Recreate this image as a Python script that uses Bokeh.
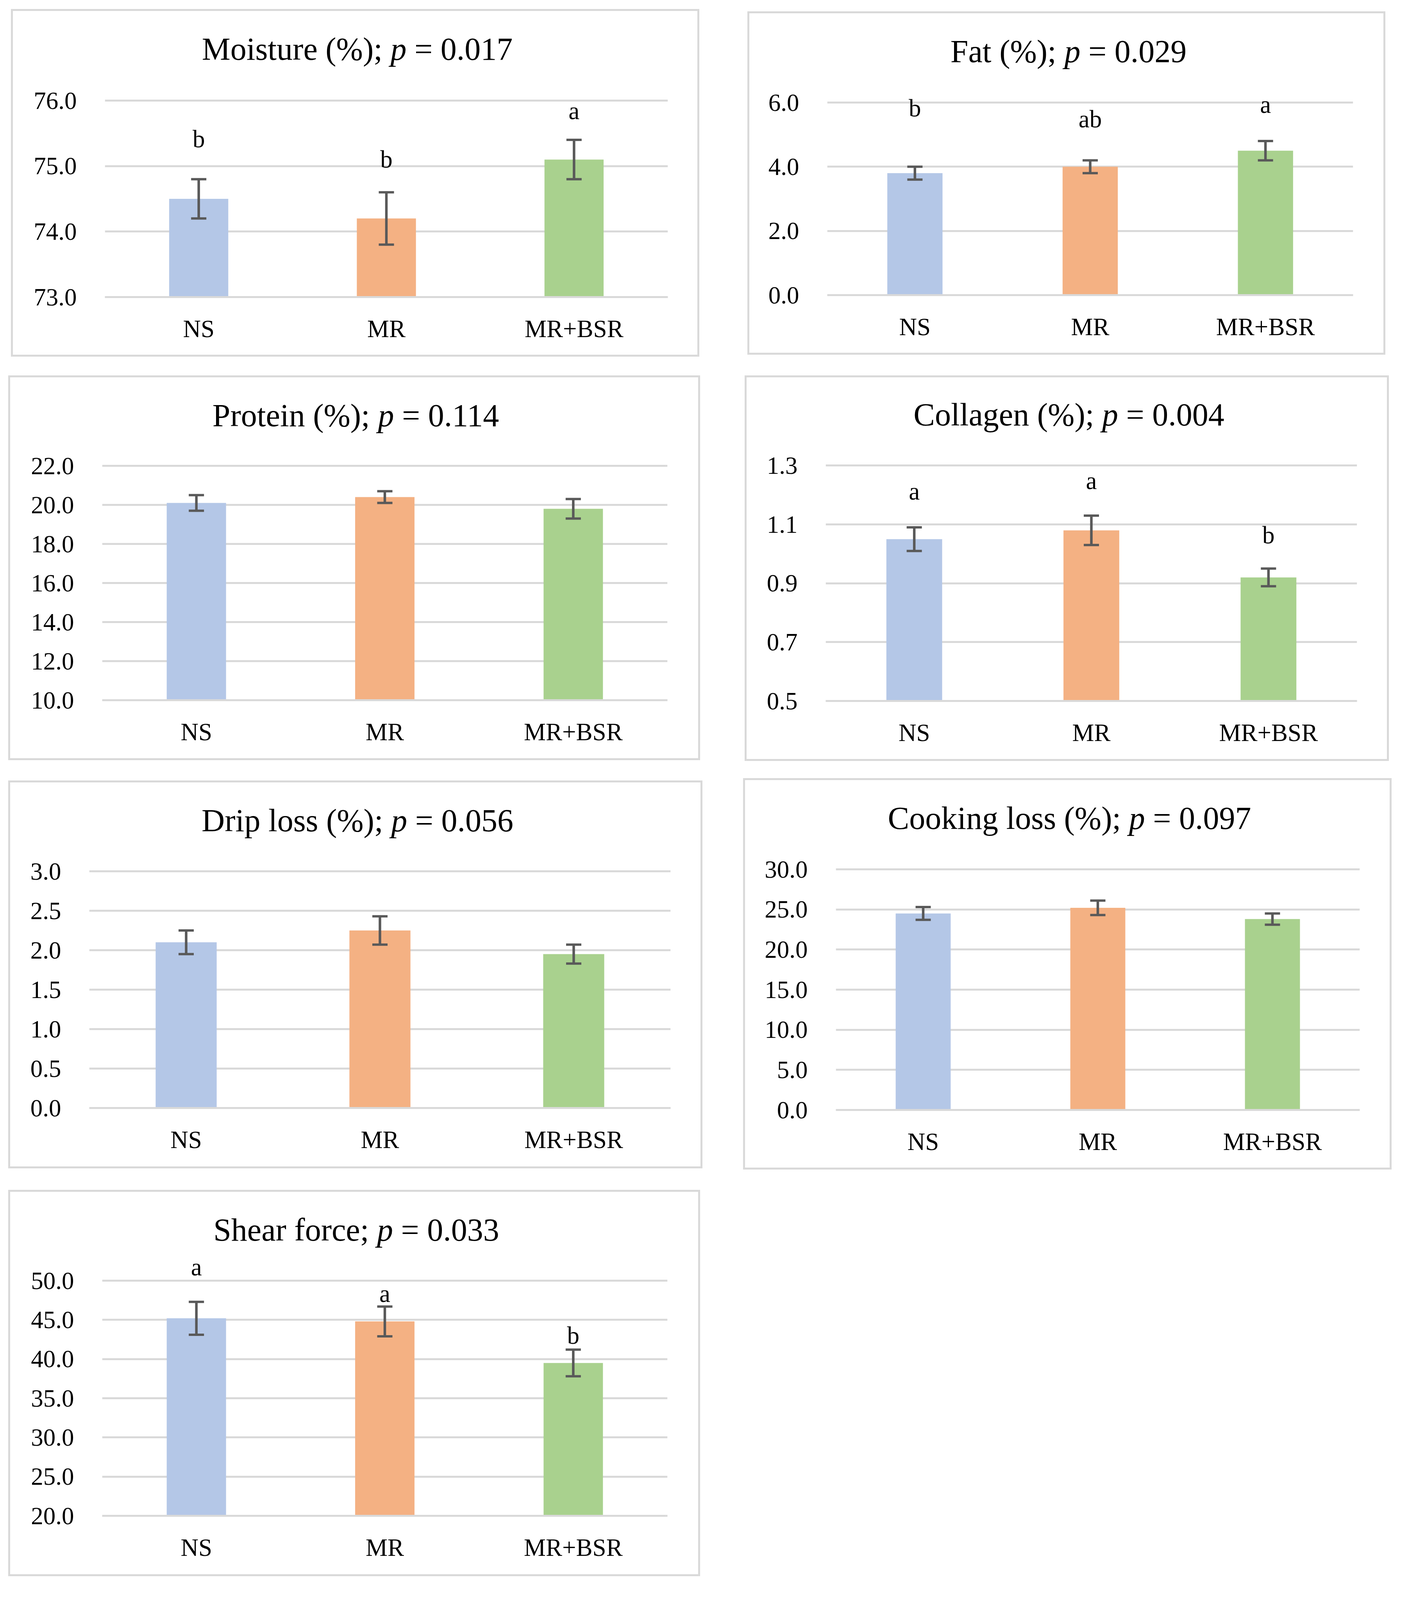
from bokeh.plotting import figure
from bokeh.layouts import row, column
from bokeh.models import (ColumnDataSource, FactorRange, Range1d, FixedTicker,
                          PrintfTickFormatter, Whisker, TeeHead, Label, Spacer)
from bokeh.core.properties import value
from bokeh.embed import file_html
from bokeh.resources import INLINE

# ------------------------------------------------
# Datos
# ------------------------------------------------
grupos = ["NS", "MR", "MR+BSR"]
colores = ["#b4c7e7", "#f4b183", "#a9d18e"]

humedad_media = [74.5, 74.2, 75.1]
humedad_err = [0.3, 0.4, 0.3]
humedad_letras = ["b", "b", "a"]
humedad_letras_y = [75.28, 74.97, 75.71]
humedad_ticks = [73.0, 74.0, 75.0, 76.0]

grasa_media = [3.8, 4.0, 4.5]
grasa_err = [0.2, 0.2, 0.3]
grasa_letras = ["b", "ab", "a"]
grasa_letras_y = [5.56, 5.22, 5.67]
grasa_ticks = [0.0, 2.0, 4.0, 6.0]

proteina_media = [20.1, 20.4, 19.8]
proteina_err = [0.4, 0.3, 0.5]
proteina_ticks = [10.0, 12.0, 14.0, 16.0, 18.0, 20.0, 22.0]

colageno_media = [1.05, 1.08, 0.92]
colageno_err = [0.04, 0.05, 0.03]
colageno_letras = ["a", "a", "b"]
colageno_letras_y = [1.183, 1.219, 1.035]
colageno_ticks = [0.5, 0.7, 0.9, 1.1, 1.3]

goteo_media = [2.10, 2.25, 1.95]
goteo_err = [0.15, 0.18, 0.12]
goteo_ticks = [0.0, 0.5, 1.0, 1.5, 2.0, 2.5, 3.0]

coccion_media = [24.5, 25.2, 23.8]
coccion_err = [0.8, 0.9, 0.7]
coccion_ticks = [0.0, 5.0, 10.0, 15.0, 20.0, 25.0, 30.0]

corte_media = [45.2, 44.8, 39.5]
corte_err = [2.1, 1.9, 1.7]
corte_letras = ["a", "a", "b"]
corte_letras_y = [50.63, 47.25, 41.92]
corte_ticks = [20.0, 25.0, 30.0, 35.0, 40.0, 45.0, 50.0]

# ------------------------------------------------
# Estilo
# ------------------------------------------------
FUENTE = "Liberation Serif"
GRIS = "#d9d9d9"
ERR_COLOR = "#595959"
BORDE = 5
ESC_Y = 0.85            # la ventana fotografiada es más baja: comprimo en vertical
BASE_TITULO = 146       # línea base del título bajo el borde del panel
T_TITULO = 82
T_TEXTO = 63
AJUSTE_BASE = 22        # el texto svg cae un poco más abajo de la línea base pedida

# anchos de Times / Liberation Serif (1/1000 em) para centrar el título
ANCHOS = {' ': 250, '(': 333, ')': 333, '%': 833, ';': 278, '=': 564, '.': 250,
          'C': 667, 'D': 722, 'F': 556, 'M': 889, 'P': 556, 'S': 556,
          'a': 444, 'c': 444, 'e': 444, 'f': 333, 'g': 500, 'h': 500, 'i': 278,
          'k': 500, 'l': 278, 'n': 500, 'o': 500, 'p': 500, 'r': 333, 's': 389,
          't': 278, 'u': 500}


def ancho(texto, tam):
    return sum(ANCHOS.get(c, 500) for c in texto) * tam / 1000.0


def escala(caja):
    x0, y0, x1, y1 = caja
    return (x0, round(y0 * ESC_Y), x1, round(y1 * ESC_Y))


def panel(cabeza, valor_p, media, err, ticks, caja, marco, letras=None, letras_y=None):
    x0, y0, x1, y1 = escala(caja)
    fl, ft, fr, fb = escala(marco)
    W = x1 - x0 - 2 * BORDE
    H = y1 - y0 - 2 * BORDE
    izq = fl - x0 - BORDE
    der = x1 - fr - BORDE
    abajo = y1 - fb - BORDE
    # el área de dibujo llega hasta arriba para que el título no se recorte
    alto_marco = H - abajo
    lo, hi = ticks[0], ticks[-1]
    y_fin = lo + (hi - lo) * alto_marco / (fb - ft)

    p = figure(x_range=FactorRange(factors=grupos), y_range=Range1d(lo, y_fin),
               width=W, height=H, min_border_left=izq, min_border_right=der,
               min_border_top=0, min_border_bottom=abajo, title=None,
               toolbar_location=None, output_backend="svg",
               outline_line_color=None,
               styles={"border": f"{BORDE}px solid {GRIS}"})

    fuente = ColumnDataSource(data={
        'g': grupos,
        'media': media,
        'color': colores,
        'sup': [m + e for m, e in zip(media, err)],
        'inf': [m - e for m, e in zip(media, err)],
    })

    p.vbar(x='g', top='media', bottom=lo, width=0.315, source=fuente,
           fill_color='color', line_color=None)

    p.add_layout(Whisker(base='g', upper='sup', lower='inf', source=fuente,
                         level="overlay",
                         line_color=ERR_COLOR, line_width=6.5,
                         upper_head=TeeHead(size=39, line_color=ERR_COLOR, line_width=6),
                         lower_head=TeeHead(size=39, line_color=ERR_COLOR, line_width=6)))

    if letras:
        fuente_letras = ColumnDataSource(data={'g': grupos, 'y': letras_y, 't': letras})
        p.text(x='g', y='y', text='t', source=fuente_letras, y_offset=-AJUSTE_BASE,
               text_font=value(FUENTE), text_font_size=f"{T_TEXTO}px", text_color="black",
               text_align="center", text_baseline="alphabetic")

    # ejes y rejilla
    p.xgrid.visible = False
    p.ygrid.ticker = FixedTicker(ticks=ticks)
    p.ygrid.grid_line_color = GRIS
    p.ygrid.grid_line_width = 5

    p.yaxis.ticker = FixedTicker(ticks=ticks)
    p.yaxis.formatter = PrintfTickFormatter(format="%.1f")
    p.yaxis.axis_line_color = None
    p.yaxis.major_tick_line_color = None
    p.yaxis.minor_tick_line_color = None
    p.yaxis.major_label_standoff = 66

    p.xaxis.axis_line_color = GRIS
    p.xaxis.axis_line_width = 5
    p.xaxis.major_tick_line_color = None
    p.xaxis.minor_tick_line_color = None
    p.xaxis.major_label_standoff = 40

    for eje in (p.xaxis, p.yaxis):
        eje.major_label_text_font = FUENTE
        eje.major_label_text_font_size = f"{T_TEXTO}px"
        eje.major_label_text_color = "black"

    # título con la p en cursiva
    tam = T_TITULO
    izq_txt = cabeza
    der_txt = "= " + valor_p
    total = ancho(izq_txt, tam) + ancho("  ", tam) + 500 * tam / 1000 + ancho(der_txt, tam)
    centro = (x0 + x1) / 2.0
    inicio = centro - total / 2.0 - fl
    base_y = fb - (y0 + BASE_TITULO * ESC_Y) + AJUSTE_BASE
    xp = inicio + ancho(izq_txt + " ", tam)
    xd = xp + 500 * tam / 1000 + ancho(" ", tam)
    for x, txt, estilo in [(inicio, izq_txt, "normal"), (xp, "p", "italic"), (xd, der_txt, "normal")]:
        p.add_layout(Label(x=x, y=base_y, x_units="screen", y_units="screen", text=txt,
                           text_font=FUENTE, text_font_size=f"{tam}px",
                           text_font_style=estilo, text_color="black",
                           text_align="left", text_baseline="alphabetic"))
    return p


# cajas de los paneles (x0, y0, x1, y1) y área de la rejilla (izq, arriba, der, abajo)
CAJAS = [
    (36, 37, 1808, 1095), (1931, 44, 3574, 1089),
    (29, 1152, 1810, 2322), (1924, 1152, 3583, 2325),
    (29, 2384, 1816, 3563), (1920, 2377, 3590, 3567),
    (29, 3628, 1810, 4803),
]

p1 = panel("Moisture (%);", "0.017", humedad_media, humedad_err, humedad_ticks,
           CAJAS[0], (276, 312, 1717, 904), humedad_letras, humedad_letras_y)
p2 = panel("Fat (%);", "0.029", grasa_media, grasa_err, grasa_ticks,
           CAJAS[1], (2135, 318, 3481, 898), grasa_letras, grasa_letras_y)
p3 = panel("Protein (%);", "0.114", proteina_media, proteina_err, proteina_ticks,
           CAJAS[2], (269, 1424, 1716, 2129))
p4 = panel("Collagen (%);", "0.004", colageno_media, colageno_err, colageno_ticks,
           CAJAS[3], (2131, 1424, 3491, 2134), colageno_letras, colageno_letras_y)
p5 = panel("Drip loss (%);", "0.056", goteo_media, goteo_err, goteo_ticks,
           CAJAS[4], (236, 2657, 1724, 3370))
p6 = panel("Cooking loss (%);", "0.097", coccion_media, coccion_err, coccion_ticks,
           CAJAS[5], (2157, 2651, 3498, 3375))
p7 = panel("Shear force;", "0.033", corte_media, corte_err, corte_ticks,
           CAJAS[6], (269, 3901, 1716, 4610), corte_letras, corte_letras_y)

# ------------------------------------------------
# Composición de la página
# ------------------------------------------------
filas = [
    [(p1, CAJAS[0]), (p2, CAJAS[1])],
    [(p3, CAJAS[2]), (p4, CAJAS[3])],
    [(p5, CAJAS[4]), (p6, CAJAS[5])],
    [(p7, CAJAS[6])],
]

hijos = []
fondo_prev = 8
for fila in filas:
    cajas = [escala(c) for _, c in fila]
    tope = min(c[1] for c in cajas)
    hijos.append(Spacer(width=10, height=max(1, tope - fondo_prev)))
    celdas = []
    x_prev = 8
    for (fig, _), c in zip(fila, cajas):
        celdas.append(Spacer(width=max(1, c[0] - x_prev), height=10))
        if c[1] > tope:
            celdas.append(column(Spacer(width=10, height=c[1] - tope), fig))
        else:
            celdas.append(fig)
        x_prev = c[2]
    hijos.append(row(*celdas))
    fondo_prev = max(c[3] for c in cajas)

pagina = column(*hijos)

open("out.html", "w").write(file_html(pagina, INLINE))
